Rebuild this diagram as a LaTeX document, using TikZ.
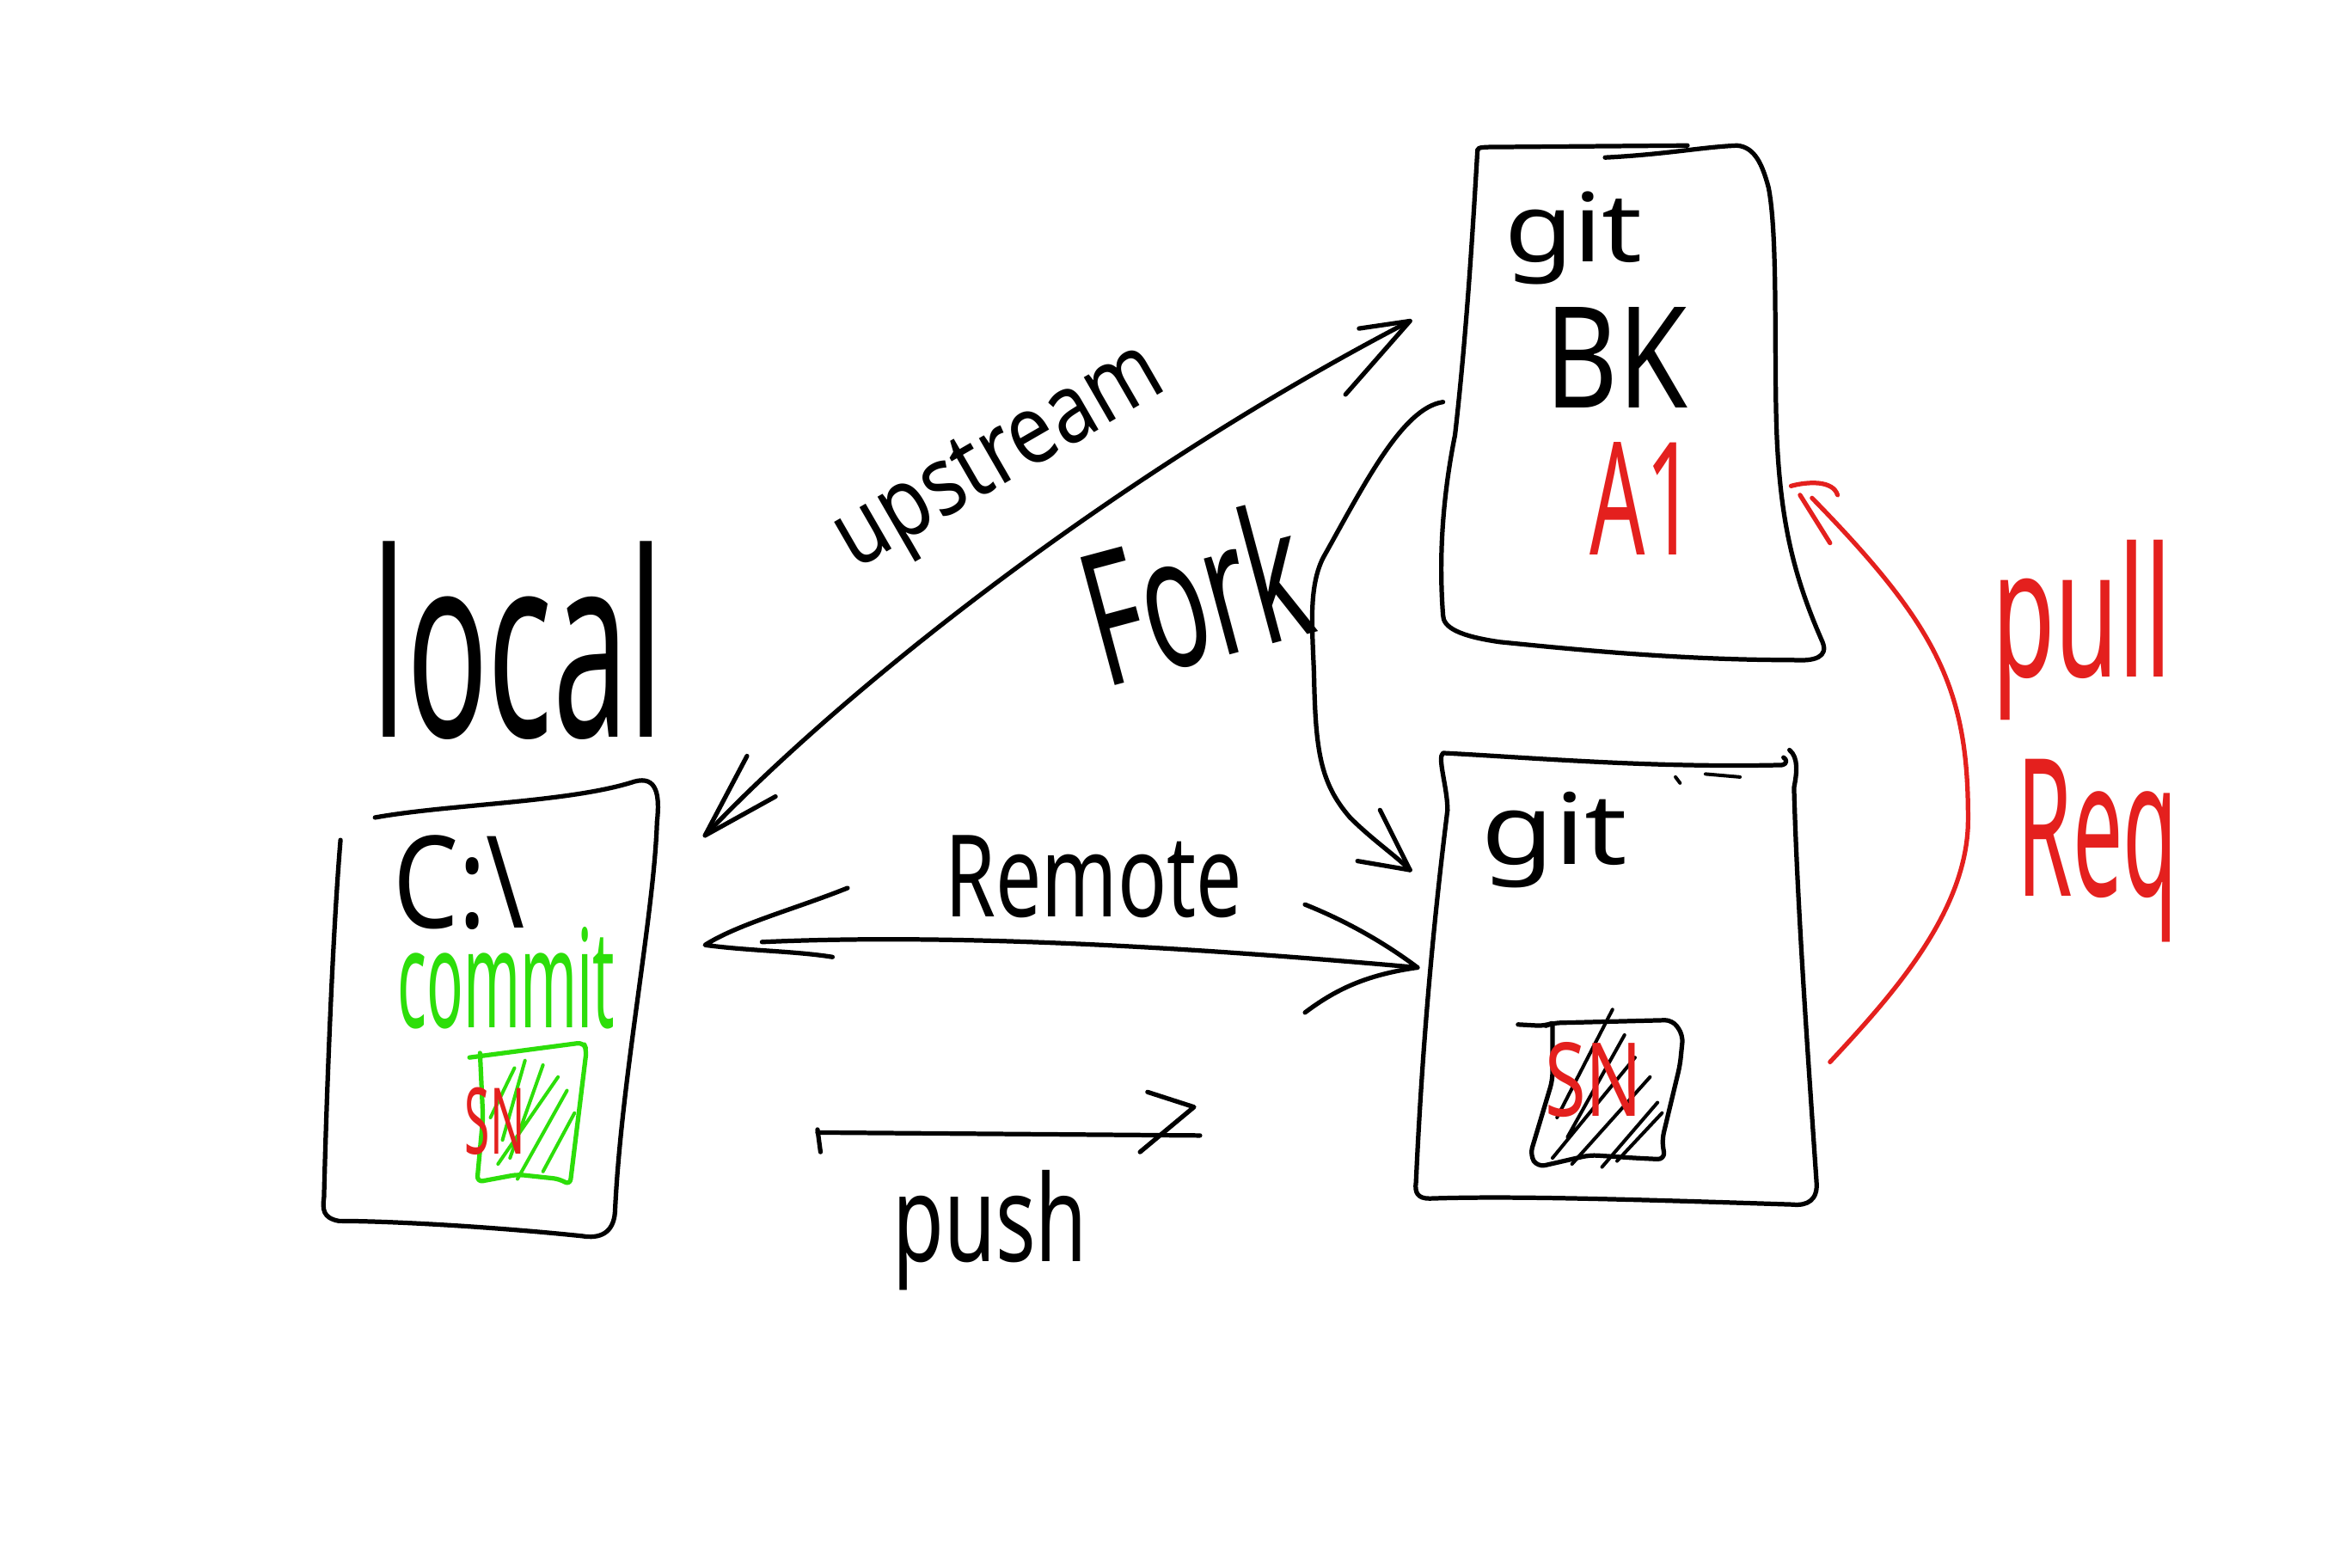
\documentclass[tikz,border=0pt]{standalone}
\usepackage{fontspec}
\setmainfont{Noto Sans}
\usepackage{graphicx}
\definecolor{penred}{RGB}{228,32,30}
\definecolor{pengreen}{RGB}{45,222,10}
\newcommand\fitt[3]{\resizebox*{#1pt}{#2pt}{#3}}
\begin{document}
\begin{tikzpicture}[x=1pt,y=-1pt,
  sk/.style={line width=3pt, line cap=round, line join=round},
  skred/.style={sk, draw=penred},
  skgreen/.style={sk, draw=pengreen},
  thin sk/.style={line width=2.3pt, line cap=round, line join=round},
  txt/.style={inner sep=0pt, outer sep=0pt, anchor=south west},
  rtxt/.style={inner sep=0pt, outer sep=0pt, anchor=center}]
\fill[white] (0,0) rectangle (1568,1045);
\useasboundingbox (0,0) rectangle (1568,1045);

% ---------- named anchor points ----------
\coordinate (up-a) at (470,557);
\coordinate (up-b) at (940,214);
\coordinate (fork-a) at (962,268);
\coordinate (fork-b) at (940,580);
\coordinate (rem-a) at (470,630);
\coordinate (rem-b) at (945,645);
\coordinate (push-a) at (545,755);
\coordinate (push-b) at (800,757);
\coordinate (pr-a) at (1220,708);
\coordinate (pr-b) at (1194,324);

% ---------- local box ----------
\draw[sk] (250,545) .. controls (300,536) and (380,535) .. (423,521)
  .. controls (438,517) and (440,530) .. (438,548)
  .. controls (436,610) and (414,720) .. (410,808)
  .. controls (409,822) and (400,826) .. (388,824)
  .. controls (330,818) and (262,814) .. (226,814)
  .. controls (215,812) and (215,806) .. (216,798)
  .. controls (218,720) and (222,620) .. (227,560);
\node[txt] (lbl-local) at (248,493) {\fitt{194}{132}{local}};
\node[txt] (lbl-c) at (262,620) {\fitt{88}{63}{C:\textbackslash}};
\node[txt,text=pengreen] (lbl-commit) at (265,686) {\fitt{145}{68}{commit}};
% green hatched box
\draw[skgreen,rounded corners=4pt] (313,705) -- (389,695) -- (391,700) -- (380,790) -- (373,786) -- (345,783) -- (318,788) -- (322,745) -- (320,702);
\draw[thin sk,draw=pengreen] (335,760) -- (350,707)
  (340,772) -- (362,710) (332,776) -- (372,718) (345,786) -- (378,727)
  (362,781) -- (383,742) (327,745) -- (343,712);
\node[txt,text=penred] (lbl-sn1) at (310,770) {\fitt{40}{45}{SN}};

% ---------- upper git box ----------
\draw[sk] (985,100) .. controls (985,98) and (990,98) .. (1000,98) -- (1125,97);
\draw[sk] (1070,105) .. controls (1110,103) and (1135,98) .. (1158,97)
  .. controls (1170,98) and (1175,110) .. (1179,125)
  .. controls (1186,160) and (1182,250) .. (1185,300)
  .. controls (1188,350) and (1196,385) .. (1215,428)
  .. controls (1219,438) and (1210,441) .. (1195,440)
  .. controls (1120,440) and (1050,433) .. (1000,428)
  .. controls (972,424) and (962,418) .. (962,410)
  .. controls (959,370) and (962,330) .. (970,290)
  .. controls (978,220) and (982,150) .. (985,100);
\node[txt] (lbl-git1) at (1003,190) {\fitt{92}{62}{git}};
\node[txt] (lbl-bk) at (1030,272) {\fitt{95}{67}{BK}};
\node[txt,text=penred] (lbl-a1) at (1060,370) {\fitt{70}{75}{A1}};

% ---------- lower git box ----------
\draw[sk] (965,540) .. controls (965,525) and (958,505) .. (962,502)
  .. controls (1020,505) and (1100,512) .. (1188,510)
  .. controls (1192,509) and (1191,506) .. (1189,505);
\draw[sk] (1193,500) .. controls (1199,505) and (1198,515) .. (1196,525)
  .. controls (1198,600) and (1205,700) .. (1211,788)
  .. controls (1212,800) and (1205,804) .. (1195,803)
  .. controls (1100,800) and (1010,797) .. (953,799)
  .. controls (945,799) and (943,795) .. (944,788)
  .. controls (948,700) and (955,620) .. (965,540);
\draw[thin sk] (1117,518) -- (1120,522) (1137,516) -- (1160,518);
\node[txt] (lbl-git2) at (988,592) {\fitt{97}{64}{git}};
% black hatched box
\draw[sk,rounded corners=5pt] (1012,683) -- (1030,684) -- (1035,682) -- (1115,680) -- (1122,690) -- (1120,710) -- (1108,760) -- (1110,773) -- (1090,772) -- (1060,770) -- (1025,778) -- (1020,770) -- (1035,720) -- (1035,683);
\draw[thin sk] (1038,745) -- (1075,673)
  (1045,758) -- (1083,690) (1035,772) -- (1090,705)
  (1048,776) -- (1100,718) (1068,778) -- (1105,735)
  (1078,774) -- (1108,742);
\node[txt,text=penred] (lbl-sn2) at (1030,745) {\fitt{65}{50}{SN}};

% ---------- upstream (double arrow) ----------
\draw[sk] (up-a) .. controls (560,462) and (740,318) .. (up-b);
\draw[sk] (498,504) -- (up-a) -- (517,531);
\draw[sk] (906,219) -- (up-b) -- (897,263);
\node[rtxt,rotate=30] (lbl-up) at (668,308) {\fitt{242}{58}{upstream}};

% ---------- fork ----------
\draw[sk] (fork-a) .. controls (935,272) and (910,322) .. (882,372)
  .. controls (872,392) and (875,420) .. (876,450)
  .. controls (877,500) and (880,522) .. (900,545)
  .. controls (915,560) and (930,570) .. (fork-b);
\draw[sk] (920,540) -- (fork-b) -- (905,574);
\node[rtxt,rotate=15] (lbl-fork) at (796,395) {\fitt{148}{95}{Fork}};

% ---------- remote (double arrow) ----------
\draw[sk] (508,628) .. controls (640,622) and (800,632) .. (rem-b);
\draw[sk] (565,592) .. controls (530,606) and (492,616) .. (rem-a)
  .. controls (500,634) and (530,634) .. (555,638);
\draw[sk] (870,603) .. controls (900,615) and (925,630) .. (rem-b)
  .. controls (910,650) and (890,660) .. (870,675);
\node[txt] (lbl-remote) at (630,612) {\fitt{198}{55}{Remote}};

% ---------- push ----------
\draw[sk] (push-a) -- (push-b);
\draw[sk] (545,753) -- (547,768);
\draw[sk] (765,728) -- (796,738) -- (760,768);
\node[txt] (lbl-push) at (595,860) {\fitt{130}{80}{push}};

% ---------- pull request ----------
\draw[skred] (pr-a) .. controls (1260,665) and (1310,610) .. (1312,550)
  .. controls (1313,460) and (1292,418) .. (1208,332);
\draw[skred] (pr-b) .. controls (1205,321) and (1222,320) .. (1225,330);
\draw[skred] (1200,330) -- (1220,362);
\node[txt,text=penred] (lbl-pull) at (1328,480) {\fitt{120}{120}{pull}};
\node[txt,text=penred] (lbl-req) at (1345,628) {\fitt{107}{122}{Req}};
\end{tikzpicture}
\end{document}
